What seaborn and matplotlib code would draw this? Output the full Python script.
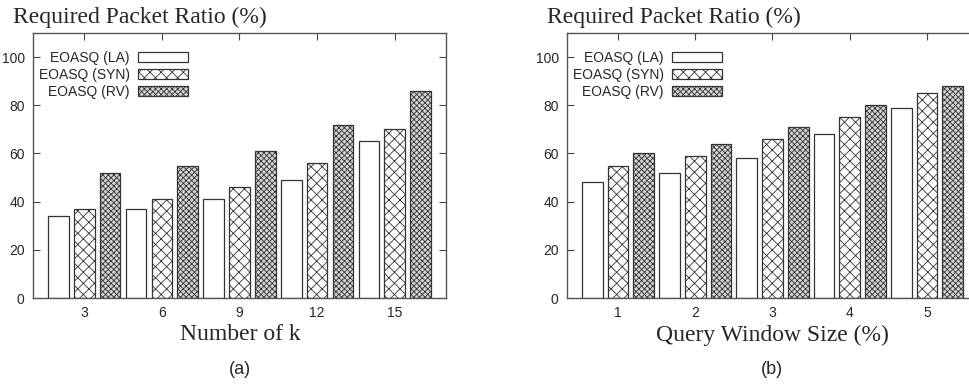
import pandas as pd
import numpy as np
import seaborn as sns
import matplotlib.pyplot as plt
from matplotlib.patches import Patch

# values
methods = ['EOASQ (LA)', 'EOASQ (SYN)', 'EOASQ (RV)']
k_values = ['3', '6', '9', '12', '15']
la_k = [34, 37, 41, 49, 65]
syn_k = [37, 41, 46, 56, 70]
rv_k = [52, 55, 61, 72, 86]

window_sizes = ['1', '2', '3', '4', '5']
la_w = [48, 52, 58, 68, 79]
syn_w = [55, 59, 66, 75, 85]
rv_w = [60, 64, 71, 80, 88]

# build long form tables for seaborn
data_k = pd.DataFrame({
    'x': k_values * 3,
    'method': np.repeat(methods, 5),
    'ratio': la_k + syn_k + rv_k,
})
data_w = pd.DataFrame({
    'x': window_sizes * 3,
    'method': np.repeat(methods, 5),
    'ratio': la_w + syn_w + rv_w,
})

sns.set_style('ticks')
plt.rcParams['font.family'] = ['Liberation Sans', 'DejaVu Sans']
plt.rcParams['hatch.linewidth'] = 0.6

faces = ['white', 'white', '#d4d4d4']
hatches = [None, 'xxx', 'xxxxxx']
edge = '#333333'

fig = plt.figure(figsize=(9.7, 3.86), dpi=100)
ax1 = fig.add_axes([33 / 970, 88 / 386, 413 / 970, 265 / 386])
ax2 = fig.add_axes([567 / 970, 88 / 386, 411 / 970, 265 / 386])


def draw_panel(ax, df, cats):
    sns.barplot(data=df, x='x', y='ratio', hue='method', order=cats,
                hue_order=methods, width=1.0, gap=0.2, ax=ax,
                legend=False, saturation=1)
    for i, cont in enumerate(ax.containers):
        for bar in cont:
            bar.set_facecolor(faces[i])
            bar.set_edgecolor(edge)
            bar.set_linewidth(0.9)
            if hatches[i]:
                bar.set_hatch(hatches[i])
    ax.set_ylim(0, 110)
    ax.set_xlim(-0.66, 4.66)
    ax.set_yticks([0, 20, 40, 60, 80, 100])
    ax.tick_params(direction='in', top=True, right=True, length=5,
                   labelsize=10, color='#444444', width=0.8, pad=6)
    for s in ax.spines.values():
        s.set_color('#555555')
        s.set_linewidth(1.0)
    ax.set_xlabel('')
    ax.set_ylabel('')
    handles = [Patch(facecolor=faces[i], edgecolor=edge, hatch=hatches[i],
                     linewidth=0.9) for i in range(3)]
    ax.legend(handles, methods, loc='upper left', frameon=False,
              markerfirst=False, fontsize=10, handlelength=3.6,
              handleheight=0.7, labelspacing=0.22, handletextpad=0.6,
              bbox_to_anchor=(-0.01, 0.97), borderaxespad=0.3)


draw_panel(ax1, data_k, k_values)
draw_panel(ax2, data_w, window_sizes)

serif = ['Liberation Serif', 'DejaVu Serif']
fig.text(13 / 970, 1 - 17 / 386, 'Required Packet Ratio (%)', family=serif,
         fontsize=17, va='center', ha='left')
fig.text(547 / 970, 1 - 17 / 386, 'Required Packet Ratio (%)', family=serif,
         fontsize=17, va='center', ha='left')
fig.text(240 / 970, 1 - 335 / 386, 'Number of k', family=serif,
         fontsize=17, va='center', ha='center')
fig.text(772 / 970, 1 - 335 / 386, 'Query Window Size (%)', family=serif,
         fontsize=17, va='center', ha='center')
fig.text(240 / 970, 1 - 370 / 386, '(a)', fontsize=13, va='center', ha='center')
fig.text(772 / 970, 1 - 370 / 386, '(b)', fontsize=13, va='center', ha='center')

plt.savefig('out.png', dpi=100)
